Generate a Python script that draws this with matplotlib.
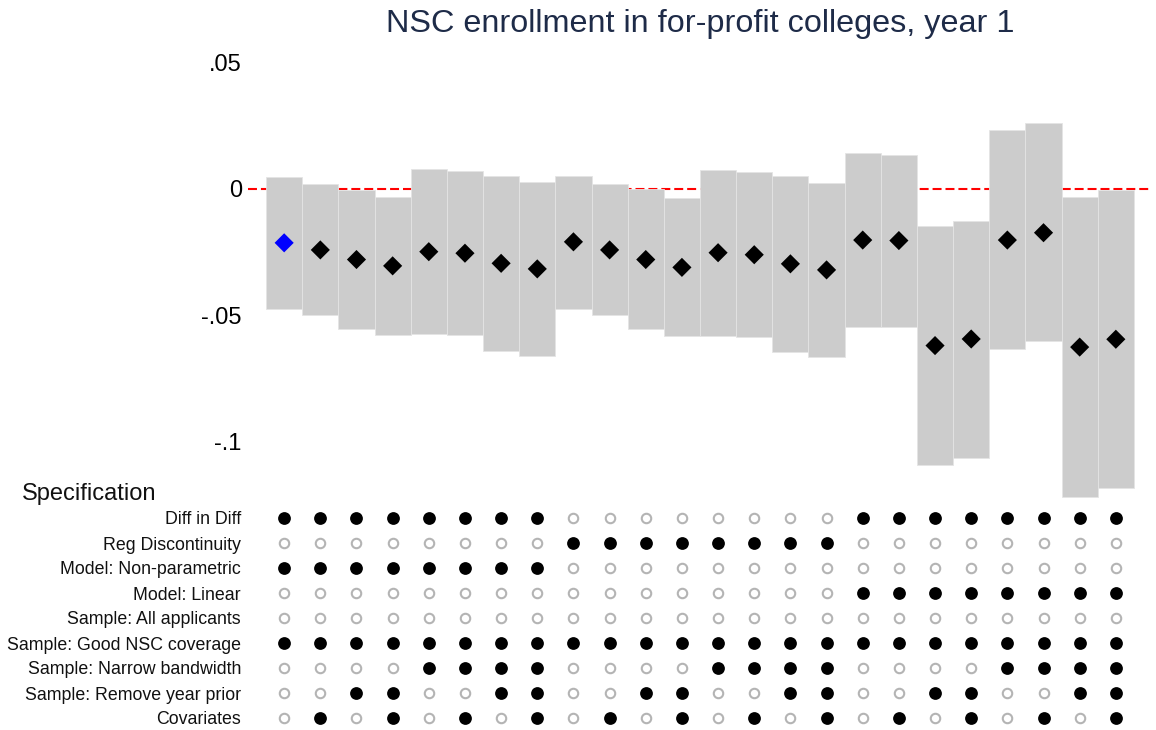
import matplotlib
matplotlib.use("Agg")
import matplotlib.pyplot as plt
import numpy as np

plt.rcParams['font.family'] = ['Liberation Sans', 'DejaVu Sans']

title = "NSC enrollment in for-profit colleges, year 1"

estimates = [-0.0213, -0.0241, -0.0279, -0.0304, -0.0248, -0.0254, -0.0294, -0.0316,
             -0.0209, -0.0241, -0.0279, -0.0310, -0.0252, -0.0260, -0.0296, -0.0320,
             -0.0202, -0.0204, -0.0619, -0.0593, -0.0202, -0.0173, -0.0625, -0.0594]
ci_high = [0.0049, 0.0019, -0.0004, -0.0033, 0.0080, 0.0072, 0.0053, 0.0026,
           0.0050, 0.0019, -0.0001, -0.0036, 0.0076, 0.0066, 0.0050, 0.0025,
           0.0141, 0.0136, -0.0148, -0.0126, 0.0233, 0.0260, -0.0030, -0.0005]
ci_low = [-0.0473, -0.0498, -0.0555, -0.0576, -0.0574, -0.0577, -0.0640, -0.0659,
          -0.0473, -0.0499, -0.0555, -0.0582, -0.0581, -0.0585, -0.0643, -0.0663,
          -0.0544, -0.0544, -0.1091, -0.1062, -0.0634, -0.0601, -0.1216, -0.1181]
highlight_index = 0

y_ticks = [0.05, 0.0, -0.05, -0.1]
y_tick_labels = [".05", "0", "-.05", "-.1"]

spec_labels = ["Diff in Diff", "Reg Discontinuity", "Model: Non-parametric", "Model: Linear",
               "Sample: All applicants", "Sample: Good NSC coverage", "Sample: Narrow bandwidth",
               "Sample: Remove year prior", "Covariates"]
diff_in_diff = [1]*8 + [0]*8 + [1]*8
reg_disc = [0]*8 + [1]*8 + [0]*8
nonparam = [1]*8 + [0]*16
linear = [0]*16 + [1]*8
all_applicants = [0]*24
good_nsc = [1]*24
narrow_bw = ([0]*4 + [1]*4) * 3
remove_prior = [0, 0, 1, 1] * 6
covariates = [0, 1] * 12
spec_rows = [diff_in_diff, reg_disc, nonparam, linear, all_applicants,
             good_nsc, narrow_bw, remove_prior, covariates]

W, H = 1156, 730
fig = plt.figure(figsize=(W/100, H/100), dpi=100)

def px_axes(left, top, right, bottom):
    return fig.add_axes([left/W, 1 - bottom/H, (right-left)/W, (bottom-top)/H])

n = len(estimates)
x = np.arange(1, n + 1)

ax = px_axes(248, 50, 1152, 505)
ax.set_xlim(0, n + 1)
ax.set_ylim(-0.1249, 0.0549)
ax.axhline(0, color='red', ls=(0, (4.3, 1.9)), lw=1.5, zorder=0)
lo = np.array(ci_low); hi = np.array(ci_high)
ax.bar(x, hi - lo, bottom=lo, width=1.0, color='#cccccc', edgecolor='#e4e4e4',
       linewidth=0.6, zorder=1)
colors = ['blue' if i == highlight_index else 'black' for i in range(n)]
ax.scatter(x, estimates, marker='D', s=95, c=colors, zorder=3, linewidths=0)
ax.set_yticks(y_ticks)
ax.set_yticklabels(y_tick_labels, fontsize=17)
ax.tick_params(axis='y', length=0, pad=4.5)
ax.set_xticks([])
for s in ax.spines.values():
    s.set_visible(False)

fig.text(700/W, 1 - 24/H, title, ha='center', va='center', fontsize=23.3, color='#1e2b48')
fig.text(22/W, 1 - 494/H, "Specification", ha='left', va='center', fontsize=17, color='#111111')

ax2 = px_axes(248, 505, 1152, 730)
ax2.set_xlim(0, n + 1)
ax2.set_ylim(8.48, -0.52)
for r, row in enumerate(spec_rows):
    row = np.array(row)
    on = x[row == 1]
    off = x[row == 0]
    ax2.plot(on, [r]*len(on), 'o', ms=9.2, color='black', mec='black', mew=0, ls='none')
    ax2.plot(off, [r]*len(off), 'o', ms=6.8, mfc='none', mec='#b4b4b4', mew=1.5, ls='none')
ax2.set_yticks(range(len(spec_labels)))
ax2.set_yticklabels(spec_labels, fontsize=12.8, color='#111111')
ax2.tick_params(axis='y', length=0, pad=5)
ax2.set_xticks([])
for s in ax2.spines.values():
    s.set_visible(False)

fig.savefig("out.png", dpi=100)
